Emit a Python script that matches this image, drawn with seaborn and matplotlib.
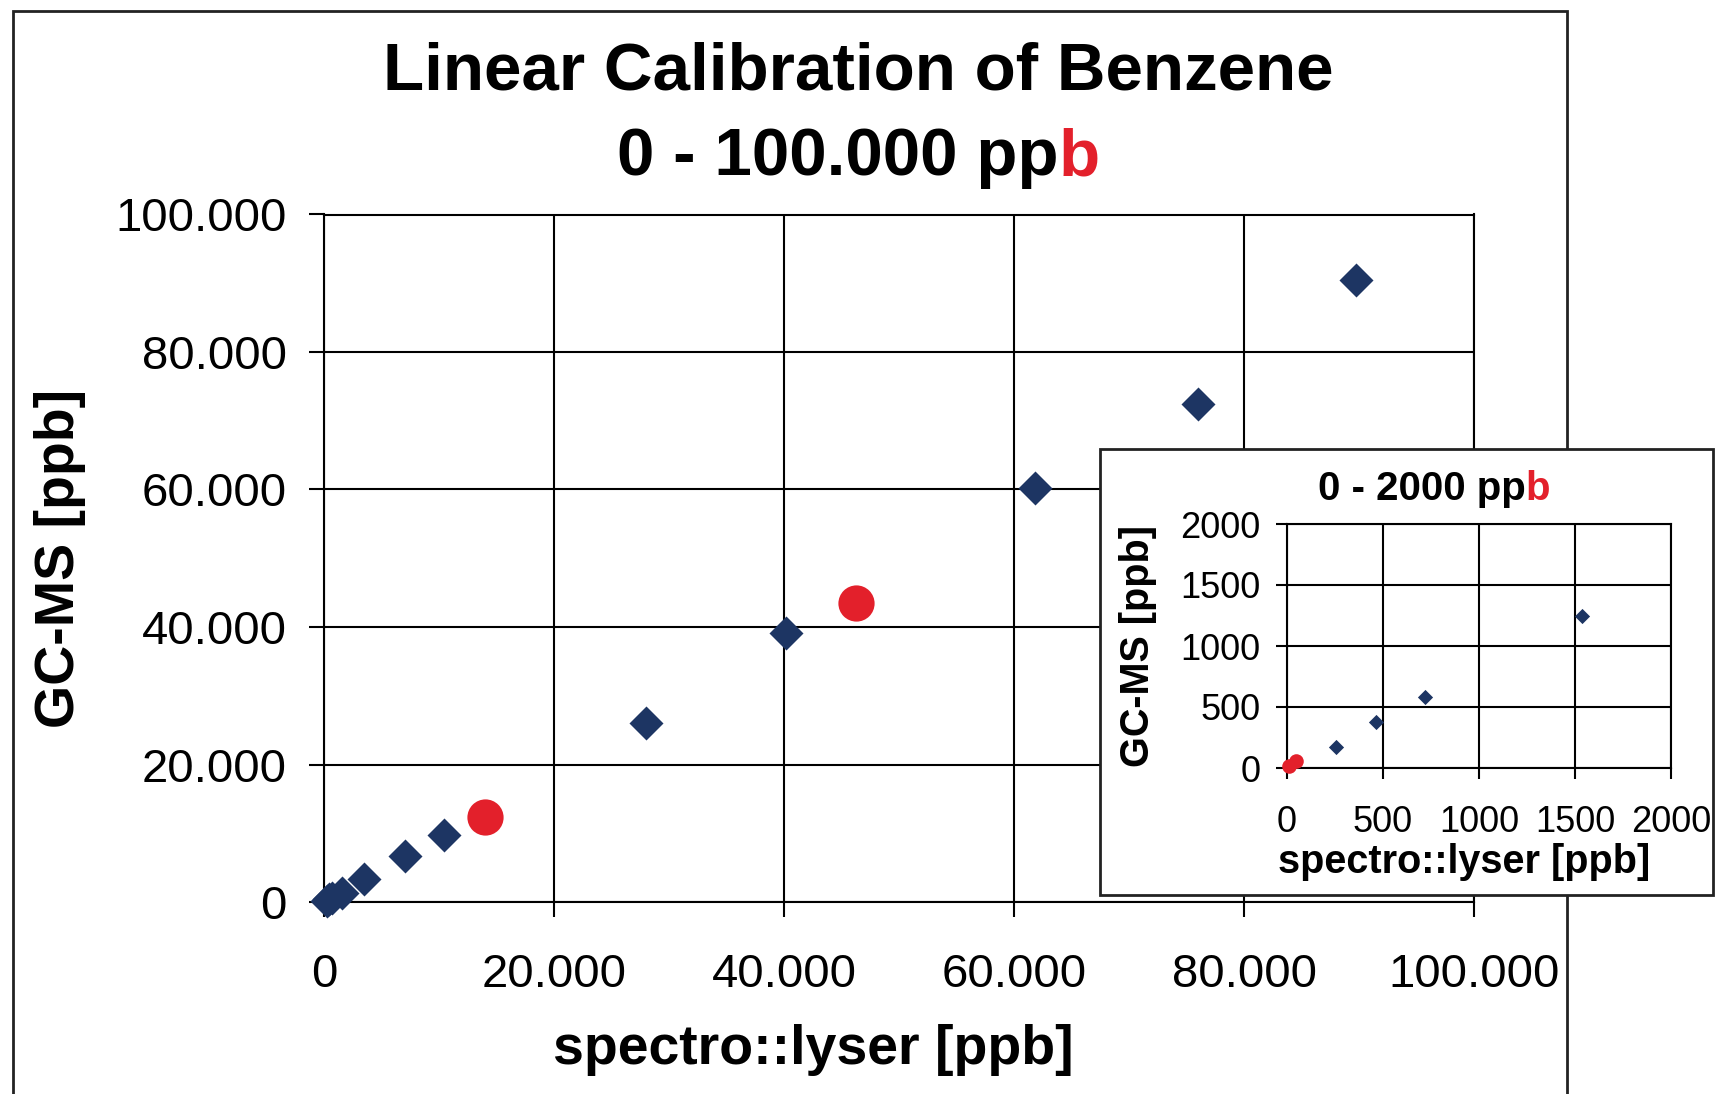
import numpy as np
import pandas as pd
import matplotlib
matplotlib.use("Agg")
import matplotlib.pyplot as plt
import seaborn as sns
from matplotlib.patches import Rectangle

# ---- data ----
blue_x = [256, 461, 718, 1538, 3500, 7000, 10400, 28000, 40150, 61800, 76000, 89700]
blue_y = [170, 377, 583, 1247, 3300, 6700, 9750, 26100, 39200, 60200, 72500, 90400]
red_x = [11, 46, 14000, 46300]
red_y = [18, 54, 12300, 43500]

main_ticks = [0, 20000, 40000, 60000, 80000, 100000]
main_tick_labels = ["0", "20.000", "40.000", "60.000", "80.000", "100.000"]
inset_ticks = [0, 500, 1000, 1500, 2000]
inset_tick_labels = ["0", "500", "1000", "1500", "2000"]

title_line1 = "Linear Calibration of Benzene"
title_line2 = ("0 - 100.000 pp", "b")
inset_title = ("0 - 2000 pp", "b")
x_label = "spectro::lyser [ppb]"
y_label = "GC-MS [ppb]"

NAVY = "#1d3563"
RED = "#e3202b"

sns.set_style("white")
plt.rcParams["font.family"] = ["Liberation Sans", "DejaVu Sans"]

blue = pd.DataFrame({"x": blue_x, "y": blue_y})
red = pd.DataFrame({"x": red_x, "y": red_y})

W, H = 1716, 1094
fig = plt.figure(figsize=(W / 100, H / 100), dpi=100)

# outer chart-area border (bottom runs off the canvas)
fig.add_artist(Rectangle((13 / W, -0.05), (1567 - 13) / W, 1 - 11 / H + 0.05,
                         transform=fig.transFigure, fill=False, edgecolor="#222222",
                         linewidth=2, zorder=0.5))

# ---- main axes ----
ax = fig.add_axes([324 / W, 1 - 902 / H, (1474 - 324) / W, (902 - 214.5) / H], zorder=1)
sns.scatterplot(data=red[red["x"] > 2000], x="x", y="y", ax=ax, color=RED, marker="o",
                s=680, linewidth=0, clip_on=False, zorder=3)
sns.scatterplot(data=blue, x="x", y="y", ax=ax, color=NAVY, marker="D", s=300,
                linewidth=0, clip_on=False, zorder=4)
ax.set_xlim(0, 100000)
ax.set_ylim(0, 100000)
ax.set_xticks(main_ticks)
ax.set_xticklabels(main_tick_labels)
ax.set_yticks(main_ticks)
ax.set_yticklabels(main_tick_labels)
ax.grid(True, color="black", linewidth=1.5)
ax.set_axisbelow(True)
for sp in ax.spines.values():
    sp.set_visible(True)
    sp.set_color("black")
    sp.set_linewidth(1.5)
ax.tick_params(axis="both", direction="out", length=11, width=1.5, colors="black",
               labelsize=34, left=True, bottom=True)
ax.tick_params(axis="x", pad=26)
ax.tick_params(axis="y", pad=16)
ax.set_xlabel(x_label, fontsize=40, fontweight="bold", color="black")
ax.set_ylabel(y_label, fontsize=40, fontweight="bold", color="black")
ax.xaxis.set_label_coords((813.7 - 324) / 1150, (902 - 1050) / 687.5)
ax.xaxis.label.set_verticalalignment("center")
ax.yaxis.set_label_coords((60 - 324) / 1150, 0.5)
ax.yaxis.label.set_verticalalignment("center")

# ---- inset box ----
fig.add_artist(Rectangle((1100 / W, 1 - 895 / H), (1713 - 1100) / W, (895 - 449) / H,
                         transform=fig.transFigure, facecolor="white", edgecolor="#222222",
                         linewidth=2, zorder=5))

# ---- inset axes ----
ia = fig.add_axes([1287 / W, 1 - 768 / H, (1671 - 1287) / W, (768 - 524) / H], zorder=6)
ib = blue[blue["x"] <= 2000]
ir = red[red["x"] <= 2000]
sns.scatterplot(data=ir, x="x", y="y", ax=ia, color=RED, marker="o", s=110,
                linewidth=0, clip_on=False, zorder=3)
sns.scatterplot(data=ib, x="x", y="y", ax=ia, color=NAVY, marker="D", s=60,
                linewidth=0, clip_on=False, zorder=4)
ia.set_xlim(0, 2000)
ia.set_ylim(0, 2000)
ia.set_xticks(inset_ticks)
ia.set_xticklabels(inset_tick_labels)
ia.set_yticks(inset_ticks)
ia.set_yticklabels(inset_tick_labels)
ia.grid(True, color="black", linewidth=1.5)
ia.set_axisbelow(True)
for sp in ia.spines.values():
    sp.set_visible(True)
    sp.set_color("black")
    sp.set_linewidth(1.5)
ia.tick_params(axis="both", direction="out", length=8, width=1.5, colors="black",
               labelsize=26, left=True, bottom=True)
ia.tick_params(axis="x", pad=19)
ia.tick_params(axis="y", pad=11)
ia.set_xlabel(x_label, fontsize=28.5, fontweight="bold", color="black")
ia.set_ylabel(y_label, fontsize=28.5, fontweight="bold", color="black")
ia.xaxis.set_label_coords((1464 - 1287) / 384, (768 - 862) / 244)
ia.xaxis.label.set_verticalalignment("center")
ia.yaxis.set_label_coords((1138 - 1287) / 384, 0.5)
ia.yaxis.label.set_verticalalignment("center")

# ---- titles ----
renderer = fig.canvas.get_renderer()


def two_color(xc, yc, parts, size, z):
    full = fig.text(xc, yc, parts[0] + parts[1], fontsize=size, fontweight="bold",
                    ha="center", va="center", alpha=0, zorder=z)
    bb = full.get_window_extent(renderer=renderer)
    x0 = bb.x0 / W
    t1 = fig.text(x0, yc, parts[0], fontsize=size, fontweight="bold",
                  ha="left", va="center", color="black", zorder=z)
    b1 = t1.get_window_extent(renderer=renderer)
    fig.text(b1.x1 / W, yc, parts[1], fontsize=size, fontweight="bold",
             ha="left", va="center", color=RED, zorder=z)
    full.remove()


fig.text(0.5, 1 - 72 / H, title_line1, fontsize=48.5, fontweight="bold",
         ha="center", va="center", color="black")
two_color(0.5, 1 - 158 / H, title_line2, 48.5, 3)
two_color(1434 / W, 1 - 489 / H, inset_title, 29, 7)

fig.savefig("out.png", dpi=100)
